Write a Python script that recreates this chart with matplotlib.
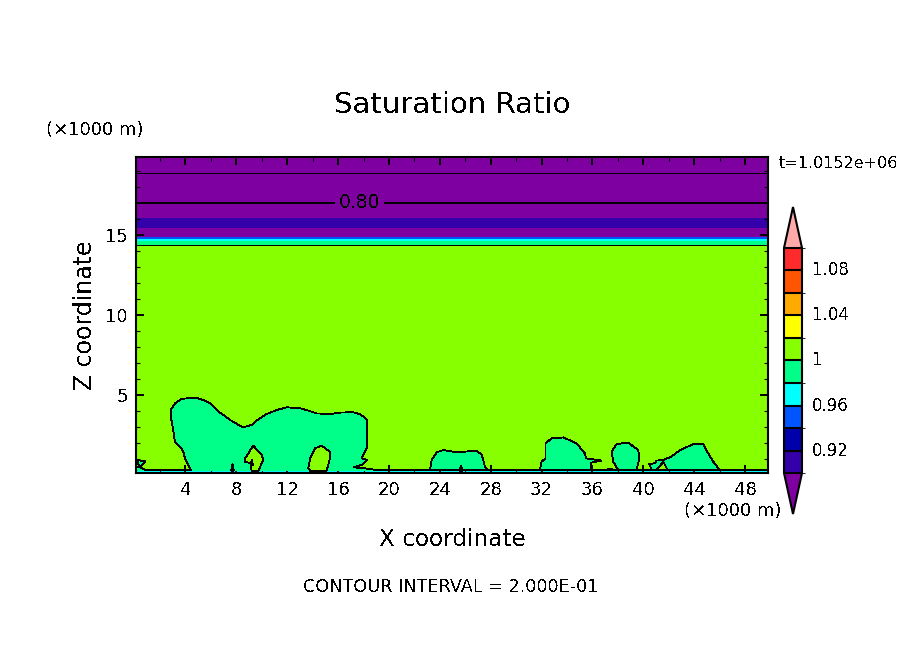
import matplotlib
matplotlib.use("Agg")
import matplotlib.pyplot as plt
from matplotlib.colors import ListedColormap, BoundaryNorm
from matplotlib.cm import ScalarMappable

plt.rcParams["text.antialiased"] = False

# colour levels of the saturation ratio
levels = [0.90, 0.92, 0.94, 0.96, 0.98, 1.00, 1.02, 1.04, 1.06, 1.08, 1.10]
colors = ["#3300aa", "#0000aa", "#0055ff", "#00ffff", "#00ff88",
          "#88ff00", "#ffff00", "#ffaa00", "#ff5500", "#ff2a2a"]
under_color = "#7f00a0"
over_color = "#ffaaaa"
cbar_ticks = [0.92, 0.96, 1.00, 1.04, 1.08]
cbar_labels = ["0.92", "0.96", "1", "1.04", "1.08"]

# horizontal layers (bottom, top, colour)
layer_z = [0.125, 0.25, 14.35, 14.6, 14.75, 14.87, 15.46, 16.04, 19.875]
layer_c = ["#00ffff", "#88ff00", "#00ff88", "#00ffff", "#0055ff", "#7f00a0", "#3300aa", "#7f00a0"]
thin_lines = [14.35, 18.86]
label_line = 17.0

# moist regions (saturation ratio below 1)
big_x = [0.11, 0.42, 0.9, 3.9, 4.41, 3.96, 3.83, 3.57, 3.18, 3.1, 3.04, 2.92, 2.84, 2.84, 3.18,
         3.70, 4.09, 5.01, 5.53, 5.93, 6.32, 6.58, 7.11, 7.50, 7.76, 8.29, 8.55, 9.2, 9.73, 10.12,
         10.38, 11.04, 11.17, 11.96, 13.0, 13.53, 14.31, 15.36, 16.15, 16.93, 17.2, 17.72, 18.0,
         18.3, 18.3, 17.85, 18.3, 17.85, 17.25, 18.1, 19.03, 49.8]
big_z = [0.48, 0.48, 0.31, 0.31, 0.31, 1.04, 1.46, 1.77, 2.08, 2.4, 2.81, 3.34, 3.65, 4.06, 4.48,
         4.75, 4.79, 4.79, 4.65, 4.48, 4.17, 3.96, 3.69, 3.44, 3.33, 3.06, 2.98, 3.13, 3.48, 3.69,
         3.81, 4.02, 4.06, 4.23, 4.17, 4.06, 3.85, 3.81, 3.9, 3.92, 3.92, 3.79, 3.65,
         3.44, 1.77, 1.04, 0.94, 0.63, 0.48, 0.42, 0.31, 0.31]
blob24_x = [23.22, 23.36, 23.75, 24.27, 25.32, 26.9, 27.3, 27.55, 27.8]
blob24_z = [0.31, 0.94, 1.42, 1.56, 1.42, 1.52, 1.25, 0.52, 0.31]
blob32_x = [31.87, 32.0, 32.3, 32.3, 32.8, 33.7, 34.75, 35.4, 35.5, 36.7, 35.9, 35.9]
blob32_z = [0.31, 0.83, 1.04, 1.98, 2.29, 2.35, 1.98, 1.35, 1.04, 0.9, 0.77, 0.31]
blob37_x = [37.0, 37.35, 37.7]
blob37_z = [0.31, 0.4, 0.31]
blob38_x = [38.03, 37.63, 37.5, 37.9, 38.8, 39.6, 39.68, 39.47]
blob38_z = [0.31, 0.83, 1.46, 1.94, 2.02, 1.56, 1.04, 0.31]
blob41_x = [40.65, 40.47, 40.9, 41.05, 41.57, 42.2, 42.88, 43.9, 44.7, 45.1, 45.5, 46.0]
blob41_z = [0.31, 0.69, 0.73, 0.9, 0.94, 1.15, 1.56, 1.92, 1.92, 1.35, 0.83, 0.31]
moist_regions = [(blob24_x, blob24_z), (blob32_x, blob32_z), (blob37_x, blob37_z),
                 (blob38_x, blob38_z), (blob41_x, blob41_z)]
corner_x = [0.16, 0.82, 0.42]
corner_z = [0.94, 0.85, 0.48]
inner9_x = [9.13, 9.22, 9.3]
inner9_z = [0.6, 0.95, 0.6]

# drier pockets inside the moist regions
hole9_x = [8.68, 9.33, 10.0, 10.12, 9.73, 9.2, 9.13, 8.68]
hole9_z = [1.04, 1.83, 1.25, 0.94, 0.27, 0.27, 0.73, 0.83]
hole14_x = [13.66, 13.8, 14.18, 14.71, 15.36, 15.36, 15.1, 13.8]
hole14_z = [0.42, 1.04, 1.67, 1.83, 1.46, 1.04, 0.27, 0.27]
hole8_x = [7.6, 7.7, 7.8]
hole8_z = [0.27, 0.69, 0.27]
hole25_x = [25.55, 25.65, 25.78]
hole25_z = [0.27, 0.6, 0.27]
hole41_x = [41.04, 41.57, 41.9]
hole41_z = [0.31, 0.83, 0.31]
dry_regions = [(hole9_x, hole9_z), (hole14_x, hole14_z), (hole8_x, hole8_z),
               (hole25_x, hole25_z), (hole41_x, hole41_z)]

moist = "#00ff88"
dry = "#88ff00"
floor = 0.25

W, H = 904, 654
fig = plt.figure(figsize=(W / 100, H / 100), dpi=100)
ax = fig.add_axes([136 / W, 1 - 473 / H, 632 / W, 316 / H])

for i, c in enumerate(layer_c):
    ax.axhspan(layer_z[i], layer_z[i + 1], color=c, lw=0, antialiased=False, zorder=1)
for z in thin_lines:
    ax.axhline(z, color="k", lw=0.6, antialiased=False, zorder=2)
ax.axhline(label_line, color="k", lw=1.1, antialiased=False, zorder=2)
ax.text(17.7, label_line, "0.80", ha="center", va="center", fontsize=13.5, zorder=3,
        bbox=dict(facecolor=under_color, edgecolor="none", pad=2.5))

# the region along the ground, closed at the bottom strip
ax.fill(big_x + [49.8, 0.11], big_z + [floor, floor], facecolor=moist, lw=0, antialiased=False, zorder=2)
ax.plot(big_x, big_z, color="k", lw=0.6, antialiased=False, zorder=2.2)
for x, z in moist_regions:
    ax.fill(x + [x[-1], x[0]], z + [floor, floor], facecolor=moist, lw=0, antialiased=False, zorder=2.1)
    ax.plot(x, z, color="k", lw=0.6, antialiased=False, zorder=2.2)
ax.fill(corner_x, corner_z, facecolor=moist, edgecolor="k", lw=0.6, antialiased=False, zorder=2.2)
for x, z in dry_regions:
    ax.fill(x, z, facecolor=dry, edgecolor="k", lw=0.6, antialiased=False, zorder=2.5)
ax.fill(inner9_x, inner9_z, facecolor=moist, edgecolor="k", lw=0.6, antialiased=False, zorder=2.6)

ax.set_xlim(0.11, 49.8)
ax.set_ylim(0.125, 19.875)
ax.set_xticks(range(4, 49, 4))
ax.set_xticks(range(2, 50, 4), minor=True)
ax.set_yticks([5, 10, 15])
ax.set_yticks([z for z in range(1, 20) if z % 5], minor=True)
ax.tick_params(which="major", direction="in", length=6, width=1.4, top=True, right=True,
               labelsize=13, pad=6)
ax.tick_params(which="minor", direction="in", length=3, width=0.8, top=True, right=True)
for s in ax.spines.values():
    s.set_linewidth(1.5)
    s.set_zorder(5)

fig.text(452 / W, 1 - 105 / H, "Saturation Ratio", ha="center", va="center", fontsize=21)
fig.text(452 / W, 1 - 540 / H, "X coordinate", ha="center", va="center", fontsize=16.7)
fig.text(85 / W, 1 - 315 / H, "Z coordinate", ha="center", va="center", rotation=90, fontsize=17)
fig.text(451 / W, 1 - 587 / H, "CONTOUR INTERVAL = 2.000E-01", ha="center", va="center", fontsize=12.7)
fig.text(95 / W, 1 - 130 / H, "(×1000 m)", ha="center", va="center", fontsize=13)
fig.text(733 / W, 1 - 511 / H, "(×1000 m)", ha="center", va="center", fontsize=13)
fig.text(838 / W, 1 - 163 / H, "t=1.0152e+06", ha="center", va="center", fontsize=11.5)

# colour bar with pointed ends
cax = fig.add_axes([784 / W, 1 - 514 / H, 18 / W, 307 / H])
cmap = ListedColormap(colors)
cmap.set_under(under_color)
cmap.set_over(over_color)
norm = BoundaryNorm(levels, cmap.N)
cb = fig.colorbar(ScalarMappable(norm=norm, cmap=cmap), cax=cax, extend="both", extendfrac=0.182,
                  ticks=cbar_ticks, drawedges=True, spacing="uniform")
cb.ax.set_yticklabels(cbar_labels, va="center")
cb.ax.tick_params(length=0, labelsize=12, pad=7)
cb.dividers.set_linewidth(1.5)
cb.dividers.set_color("k")
cb.outline.set_linewidth(1.5)

fig.savefig("out.png", dpi=100)
